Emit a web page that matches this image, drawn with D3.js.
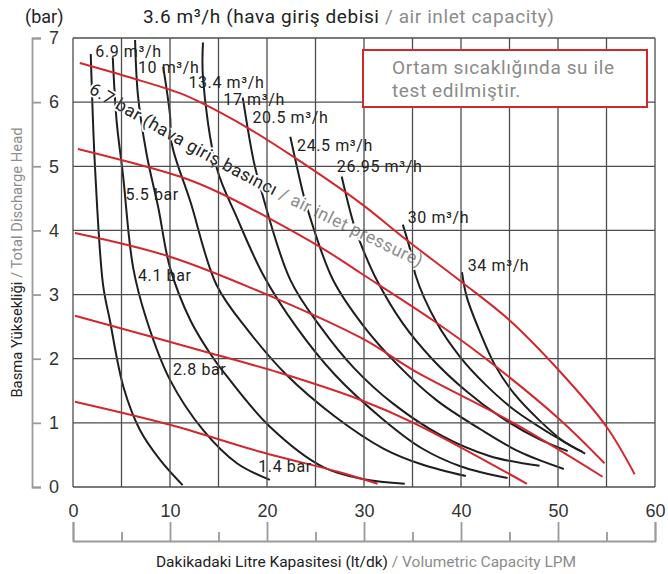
<!DOCTYPE html>
<html>
<head>
<meta charset="utf-8">
<script src="https://cdn.jsdelivr.net/npm/d3@7"></script>
<style>
  body { margin: 0; background: #fff; }
  svg { font-family: Roboto, "Noto Sans", sans-serif; }
  .grid line { stroke: #4d4d4d; stroke-width: 1.3; }
  .bracket path, .bracket line { stroke: #9a9a9a; stroke-width: 1.8; }
  .bracket text { fill: #333; font-size: 18px; font-weight: 500; }
  .air { fill: none; stroke: #1e1e1e; stroke-width: 2; }
  .press { fill: none; stroke: #d3272e; stroke-width: 2; }
  .lbl { font-size: 16px; letter-spacing: 0.6px; fill: #222; }
  .caption { stroke: #fff; stroke-width: 4; stroke-linejoin: round; paint-order: stroke; }
</style>
</head>
<body>
<div id="chart"></div>
<script>
// ticks
const xTicks = [0, 10, 20, 30, 40, 50, 60];
const xMinorTicks = [5, 15, 25, 35, 45, 55];
const yTicks = [0, 1, 2, 3, 4, 5, 6, 7];

// air inlet pressure curves (red), [LPM, bar]
const pressureNames = ['6.7 bar', '5.5 bar', '4.1 bar', '2.8 bar', '1.4 bar'];
const p67 = [[0.7, 6.61], [6, 6.38], [11, 6.14], [13.1, 6.0], [18, 5.6], [22.7, 5.15], [29.6, 4.43], [34.4, 3.85], [40.2, 3.18], [45, 2.6], [50.2, 1.8], [55, 0.94], [57.9, 0.2]];
const p55 = [[0.5, 5.27], [11, 4.84], [15.2, 4.58], [25.5, 3.74], [29.6, 3.34], [37.1, 2.6], [42.3, 2.03], [50.2, 1.05], [54.8, 0.37]];
const p41 = [[0.2, 3.96], [10, 3.59], [20.6, 2.96], [30, 2.3], [35.1, 1.82], [45.4, 1.0], [54.6, 0.16]];
const p28 = [[0.2, 2.67], [14.1, 2.09], [21.3, 1.78], [29.6, 1.36], [35.1, 1.0], [46.8, 0.05]];
const p14 = [[0.2, 1.33], [10, 0.97], [19.3, 0.55], [27.5, 0.23], [31.4, 0.05]];
// where the "x bar" labels sit (left end, baseline); 6.7 bar is the rotated caption
const pressureLabelAt = [null, [5.4, 4.47], [6.7, 3.21], [10.3, 1.75], [19.1, 0.23]];

// air consumption curves (black), [LPM, bar]
const airNames = ['3.6', '6.9', '10', '13.4', '17', '20.5', '24.5', '26.95', '30', '34'];
const a36 = [[1.83, 6.75], [1.93, 6.27], [2.27, 4.98], [3.1, 3.15], [3.8, 2.6], [5.2, 1.56], [6.9, 0.89], [9.0, 0.42], [11.3, 0.03]];
const a69 = [[4.1, 6.7], [4.5, 5.7], [5.15, 4.87], [6.2, 3.42], [7.6, 2.6], [10, 1.67], [13.4, 0.89], [16.9, 0.37], [20.3, 0.11]];
const a10 = [[6.4, 6.97], [6.7, 6.1], [7.6, 5.18], [8.8, 4.35], [10.0, 3.42], [12.1, 2.6], [14.1, 2.09], [15.9, 1.72], [20.3, 0.94], [25.8, 0.31], [30, 0.12], [34.2, 0.05]];
const a134 = [[9.3, 6.55], [10, 5.8], [10.2, 5.34], [12.1, 4.45], [14.8, 3.15], [18, 2.45], [22, 1.75], [27, 1.1], [32, 0.6], [36, 0.35], [40.5, 0.17]];
const a17 = [[13.4, 6.93], [13.4, 6.38], [14.8, 4.98], [16.9, 4.2], [19.6, 3.31], [23, 2.5], [27, 1.75], [32, 1.05], [36, 0.6], [40, 0.32], [44.8, 0.14]];
const a205 = [[17.5, 6.07], [18.6, 5.1], [19.3, 4.68], [22.4, 3.23], [25.5, 2.5], [29, 1.85], [33, 1.3], [38, 0.8], [43, 0.48], [48.1, 0.33]];
const a245 = [[22.4, 5.46], [23.7, 4.59], [24.1, 4.37], [26.8, 3.23], [30, 2.5], [33.5, 1.9], [37.5, 1.35], [42, 0.9], [46, 0.55], [50.6, 0.28]];
const a2695 = [[27.7, 4.84], [28.9, 4.12], [29.8, 3.74], [31.3, 3.23], [34, 2.55], [37, 2.0], [40.5, 1.5], [44, 1.1], [48, 0.75], [51.0, 0.56]];
const a30 = [[34.0, 4.09], [34.9, 3.62], [35.3, 3.31], [37.5, 2.56], [39.9, 2.03], [42.5, 1.6], [45.5, 1.2], [49, 0.85], [52.8, 0.52]];
const a34 = [[40.1, 3.35], [40.6, 2.96], [42, 2.4], [43.5, 1.9], [45.5, 1.45], [48, 1.05], [50.5, 0.72], [52.5, 0.55]];
// label anchors for the air curves (3.6 is the title)
const airLabelAt = [null, [2.3, 6.71], [6.7, 6.46], [11.9, 6.22], [15.5, 5.95], [18.5, 5.68], [23.1, 5.24], [27.2, 4.91], [34.5, 4.12], [40.7, 3.37]];

// path for the rotated "6.7 bar (...)" caption
const captionPath = [[1.55, 6.15], [12, 5.22], [22, 4.42], [37.5, 3.3]];

const pressureCurves = [p67, p55, p41, p28, p14];
const airCurves = [a36, a69, a10, a134, a17, a205, a245, a2695, a30, a34];

const W = 668, H = 574;
const margin = { top: 38, right: 13, bottom: 87, left: 73 };
const width = W - margin.left - margin.right;
const height = H - margin.top - margin.bottom;

const svg = d3.select('#chart').append('svg').attr('width', W).attr('height', H);

const x = d3.scaleLinear().domain([0, 60]).range([margin.left, margin.left + width]);
const y = d3.scaleLinear().domain([0, 7]).range([margin.top + height, margin.top]);

const line = d3.line().x(d => x(d[0])).y(d => y(d[1])).curve(d3.curveCatmullRom.alpha(0.5));

svg.append('defs').append('path').attr('id', 'capPath')
  .attr('d', d3.line().x(d => x(d[0])).y(d => y(d[1])).curve(d3.curveBasis)(captionPath));

// air curves
svg.append('g').selectAll('path').data(airCurves).join('path')
  .attr('class', 'air').attr('d', line);

// rotated caption, its white halo breaks the black curves
const cap = svg.append('text').attr('class', 'caption').attr('font-size', 17.5).attr('letter-spacing', 0.5)
  .append('textPath').attr('href', '#capPath');
cap.append('tspan').attr('fill', '#222').text(pressureNames[0] + ' (hava giriş basıncı ');
cap.append('tspan').attr('fill', '#8c8c8c').text('/ air inlet pressure)');

// grid
const $grid = svg.append('g').attr('class', 'grid');
$grid.selectAll('.v').data(d3.range(0, 61, 5)).join('line').attr('class', 'v')
  .attr('x1', d => x(d)).attr('x2', d => x(d)).attr('y1', y(0)).attr('y2', y(7));
$grid.selectAll('.h').data(yTicks).join('line').attr('class', 'h')
  .attr('x1', x(0)).attr('x2', x(60)).attr('y1', d => y(d)).attr('y2', d => y(d));

// pressure curves
svg.append('g').selectAll('path').data(pressureCurves).join('path')
  .attr('class', 'press').attr('d', line);

// pressure labels
svg.append('g').selectAll('text').data(pressureNames.map((n, i) => [n, pressureLabelAt[i]]).filter(d => d[1]))
  .join('text').attr('class', 'lbl')
  .attr('x', d => x(d[1][0])).attr('y', d => y(d[1][1])).text(d => d[0]);

// air flow labels
svg.append('g').selectAll('text').data(airNames.map((n, i) => [n, airLabelAt[i]]).filter(d => d[1]))
  .join('text').attr('class', 'lbl')
  .attr('x', d => x(d[1][0])).attr('y', d => y(d[1][1])).text(d => d[0] + ' m³/h');

// left bracket axis
svg.append('g').attr('class', 'bracket')
  .attr('transform', 'translate(32,0)')
  .call(d3.axisRight(y).tickValues(yTicks).tickSize(9).tickPadding(8).tickFormat(d3.format('d')));

// bottom bracket axis
const $xb = svg.append('g').attr('class', 'bracket').attr('transform', 'translate(0,541)');
$xb.call(d3.axisTop(x).tickValues(xTicks).tickSize(19).tickPadding(5).tickFormat(d3.format('d')));
$xb.append('g').call(d3.axisTop(x).tickValues(xMinorTicks).tickSize(9).tickFormat(''))
  .call(g => g.select('.domain').remove());
svg.selectAll('.bracket .domain').attr('fill', 'none');

// titles
svg.append('text').attr('x', 25).attr('y', 23).attr('fill', '#222').attr('font-size', 18).text('(bar)');
const title = svg.append('text').attr('x', 143).attr('y', 23).attr('font-size', 19).attr('letter-spacing', 0.6);
title.append('tspan').attr('fill', '#222').text(airNames[0] + ' m³/h (hava giriş debisi ');
title.append('tspan').attr('fill', '#8c8c8c').text('/ air inlet capacity)');

const xl = svg.append('text').attr('x', 366).attr('y', 567).attr('text-anchor', 'middle').attr('font-size', 15.5);
xl.append('tspan').attr('fill', '#222').text('Dakikadaki Litre Kapasitesi (lt/dk) ');
xl.append('tspan').attr('fill', '#8c8c8c').text('/ Volumetric Capacity LPM');

const yl = svg.append('text').attr('transform', `translate(22,${y(3.5)}) rotate(-90)`)
  .attr('text-anchor', 'middle').attr('font-size', 14.8);
yl.append('tspan').attr('fill', '#222').text('Basma Yüksekliği ');
yl.append('tspan').attr('fill', '#8c8c8c').text('/ Total Discharge Head');

// note box
svg.append('rect').attr('x', 363).attr('y', 50).attr('width', 284).attr('height', 57)
  .attr('fill', '#fff').attr('stroke', '#d3272e').attr('stroke-width', 2);
svg.append('text').attr('x', 392).attr('y', 74).attr('fill', '#8a8a8a').attr('font-size', 19).attr('letter-spacing', 0.6)
  .text('Ortam sıcaklığında su ile');
svg.append('text').attr('x', 392).attr('y', 97).attr('fill', '#8a8a8a').attr('font-size', 19).attr('letter-spacing', 0.6)
  .text('test edilmiştir.');
</script>
</body>
</html>
